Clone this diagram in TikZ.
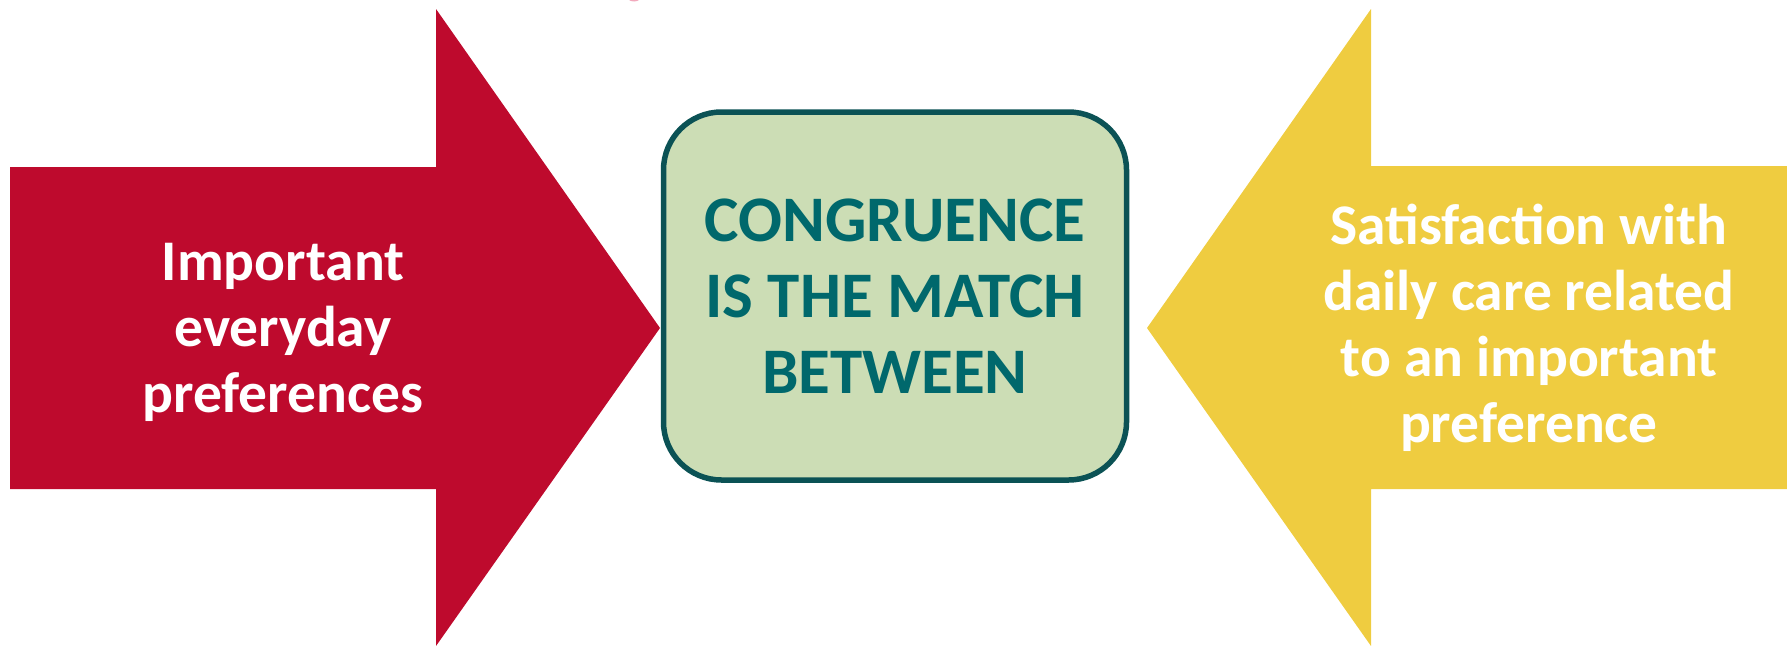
\documentclass[tikz,border=0pt]{standalone}
\usepackage{fontspec}
\setmainfont{Carlito}

\definecolor{prefred}{HTML}{BE0A2D}
\definecolor{satyellow}{HTML}{EFCC40}
\definecolor{matchfill}{HTML}{CCDDB5}
\definecolor{matchline}{HTML}{0B5255}
\definecolor{matchtext}{HTML}{00686C}
\definecolor{markpink}{HTML}{F2A9BC}

\begin{document}
\begin{tikzpicture}[x=1pt,y=-1pt,
    lbl/.style={text=white, align=center, font=\fontsize{57.5}{66}\selectfont\bfseries},
    match/.style={draw=matchline, fill=matchfill, line width=5.5pt, rounded corners=58pt,
        minimum width=463pt, minimum height=368pt, text=matchtext, align=center,
        font=\fontsize{65}{76}\selectfont\bfseries}]
\useasboundingbox (0,0) rectangle (1787,645);

% small mark cut off at the top edge
\fill[markpink] (634,-5) ellipse (8 and 6.5);

% left arrow
\fill[prefred] (10,167) -- (436,167) -- (436,9) -- (660,328) -- (436,646)
    -- (436,489) -- (10,489) -- cycle;
\node[lbl] (pref) at (283,332) {Important\\everyday\\preferences};

% right arrow
\fill[satyellow] (1787,166) -- (1371,166) -- (1371,9) -- (1147,328) -- (1371,646)
    -- (1371,489) -- (1787,489) -- cycle;
\node[lbl] (sat) at (1529,328) {Satisfaction with\\daily care related\\to an important\\preference};

% box in the middle
\node[match] (cong) at (895,296) {CONGRUENCE\\IS THE MATCH\\BETWEEN};

\end{tikzpicture}
\end{document}
